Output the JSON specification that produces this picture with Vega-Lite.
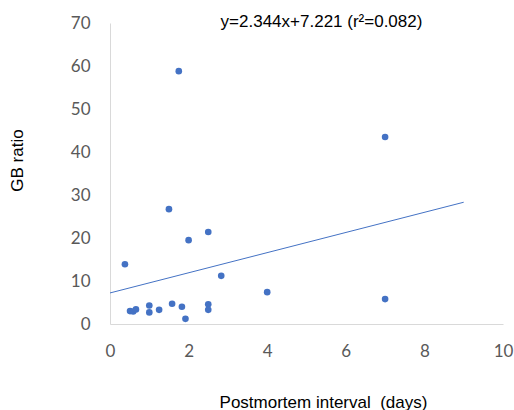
{
  "$schema": "https://vega.github.io/schema/vega-lite/v6.json",
  "width": 393,
  "height": 301,
  "autosize": "none",
  "padding": {"left": 110, "top": 23, "right": 11, "bottom": 86},
  "background": "white",
  "config": {"view": {"stroke": null}},
  "title": {
    "text": "y=2.344x+7.221 (r²=0.082)",
    "font": "Liberation Sans",
    "fontSize": 17,
    "fontWeight": "normal",
    "color": "#000000",
    "anchor": "middle",
    "dx": 15,
    "offset": -17
  },
  "layer": [
    {
      "data": {"values": [
        {"pmi": 1.75, "gb": 58.8},
        {"pmi": 7.0, "gb": 43.5},
        {"pmi": 1.5, "gb": 26.7},
        {"pmi": 2.5, "gb": 21.4},
        {"pmi": 2.0, "gb": 19.5},
        {"pmi": 0.38, "gb": 13.9},
        {"pmi": 2.83, "gb": 11.2},
        {"pmi": 4.0, "gb": 7.4},
        {"pmi": 7.0, "gb": 5.8},
        {"pmi": 1.58, "gb": 4.7},
        {"pmi": 1.0, "gb": 4.3},
        {"pmi": 1.0, "gb": 2.7},
        {"pmi": 0.51, "gb": 3.0},
        {"pmi": 0.59, "gb": 2.9},
        {"pmi": 0.66, "gb": 3.4},
        {"pmi": 1.25, "gb": 3.3},
        {"pmi": 1.83, "gb": 4.0},
        {"pmi": 1.92, "gb": 1.2},
        {"pmi": 2.5, "gb": 4.6},
        {"pmi": 2.5, "gb": 3.3}
      ]},
      "mark": {"type": "circle", "size": 44, "color": "#4472C4", "opacity": 1},
      "encoding": {
        "x": {
          "field": "pmi", "type": "quantitative",
          "scale": {"domain": [0, 10], "nice": false},
          "axis": {
            "title": "Postmortem interval\u00a0\u00a0(days)",
            "values": [0, 2, 4, 6, 8, 10],
            "grid": false, "ticks": false, "labelFlush": false,
            "domainColor": "#D9D9D9", "domainWidth": 1,
            "labelFont": "Lato", "labelFontSize": 17, "labelColor": "#595959",
            "labelPadding": 19,
            "titleFont": "Liberation Sans", "titleFontSize": 17, "titleFontWeight": "normal", "titleColor": "#000000",
            "titleX": 213, "titleY": 78, "titleBaseline": "middle"
          }
        },
        "y": {
          "field": "gb", "type": "quantitative",
          "scale": {"domain": [0, 70], "nice": false},
          "axis": {
            "title": "GB ratio",
            "values": [0, 10, 20, 30, 40, 50, 60, 70],
            "grid": false, "ticks": false, "labelFlush": false,
            "domainColor": "#D9D9D9", "domainWidth": 1,
            "labelFont": "Lato", "labelFontSize": 17, "labelColor": "#595959",
            "labelPadding": 20,
            "titleFont": "Liberation Sans", "titleFontSize": 17, "titleFontWeight": "normal", "titleColor": "#000000",
            "titleX": -93, "titleY": 137, "titleBaseline": "middle", "titleAngle": -90
          }
        }
      }
    },
    {
      "data": {"values": [
        {"pmi": 0, "gb": 7.221},
        {"pmi": 9, "gb": 28.317}
      ]},
      "mark": {"type": "line", "color": "#4472C4", "strokeWidth": 1},
      "encoding": {
        "x": {"field": "pmi", "type": "quantitative"},
        "y": {"field": "gb", "type": "quantitative"}
      }
    }
  ]
}
